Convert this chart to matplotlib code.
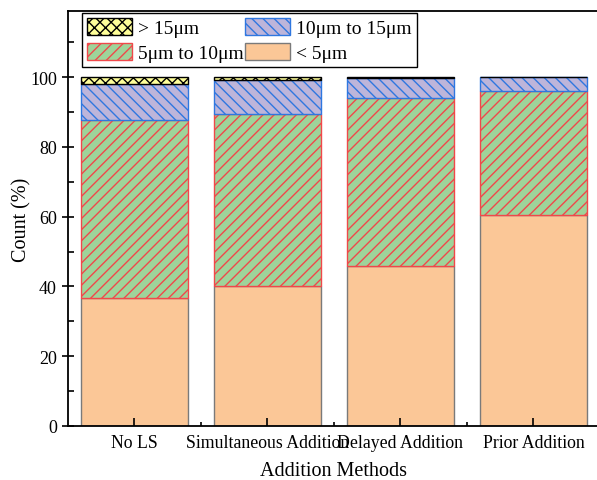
import numpy as np
import matplotlib.pyplot as plt

plt.rcParams['font.family'] = ['Liberation Serif', 'DejaVu Serif']
plt.rcParams['hatch.linewidth'] = 1.0

methods = ["No LS", "Simultaneous Addition", "Delayed Addition", "Prior Addition"]
# percentage of particles per size class
below5 = [36.6, 40.2, 46.0, 60.6]
from5to10 = [51.0, 49.2, 48.0, 35.4]
from10to15 = [10.4, 9.7, 5.7, 4.0]
above15 = [2.0, 0.9, 0.3, 0.0]

fig = plt.figure(figsize=(5.97, 4.81), dpi=100)
ax = fig.add_axes([0.1139, 0.1123, 0.891, 0.8628])

x = np.arange(len(methods))
w = 0.8
b1 = np.array(below5)
b2 = b1 + np.array(from5to10)
b3 = b2 + np.array(from10to15)

h4 = ax.bar(x, below5, w, color='#FBC797', edgecolor='#7a7a7a', linewidth=1.0)
h3 = ax.bar(x, from5to10, w, bottom=b1, color='#9ED49A', edgecolor='#F0484A', hatch='///', linewidth=1.0)
h2 = ax.bar(x, from10to15, w, bottom=b2, color='#BDB5DA', edgecolor='#2F77E0', hatch='\\\\\\', linewidth=1.0)
h1 = ax.bar(x, above15, w, bottom=b3, color='#FFFF99', edgecolor='black', hatch='xxx', linewidth=1.0)

ax.set_xlim(-0.5, 3.5)
ax.set_ylim(0, 119)
ax.set_xticks(x)
ax.set_xticklabels(methods, fontsize=12.8)
ax.set_xticks(x[:-1] + 0.5, minor=True)
ax.set_yticks(np.arange(0, 101, 20))
ax.set_yticks(np.arange(10, 120, 20), minor=True)
ax.tick_params(axis='y', which='major', direction='inout', length=9, width=1.2, labelsize=13)
ax.tick_params(axis='y', which='minor', direction='in', length=4, width=1.2)
ax.tick_params(axis='x', which='major', direction='in', length=6, width=1.2, pad=6)
ax.tick_params(axis='x', which='minor', direction='in', length=3, width=1.2)

for s in ax.spines.values():
    s.set_linewidth(1.3)

ax.set_xlabel("Addition Methods", fontsize=14.5, labelpad=7)
ax.set_ylabel("Count (%)", fontsize=14.5, labelpad=-1)

leg = ax.legend([h1, h3, h2, h4], ['> 15μm', '5μm to 10μm', '10μm to 15μm', '< 5μm'],
                ncol=2, loc='upper left', bbox_to_anchor=(0.022, 1.0), fontsize=14,
                frameon=True, fancybox=False, edgecolor='black', framealpha=1,
                handlelength=2.35, handleheight=1.0, handletextpad=0.3,
                columnspacing=0.05, labelspacing=0.3, borderpad=0.25, borderaxespad=0.1)
leg.get_frame().set_linewidth(1.0)

fig.savefig("out.png", dpi=100)
